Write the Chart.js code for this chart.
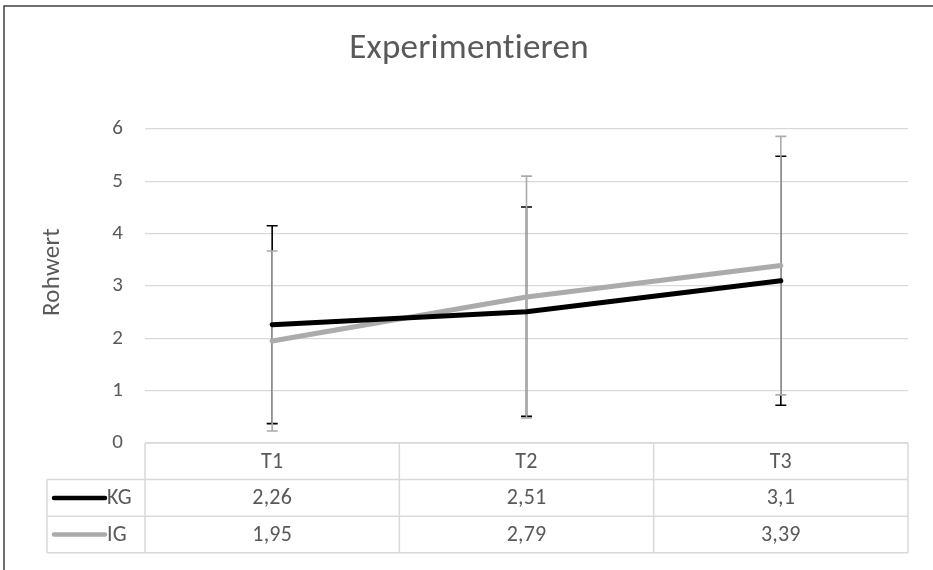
<!DOCTYPE html>
<html>
<head>
<meta charset="utf-8">
<script src="https://cdn.jsdelivr.net/npm/chart.js@4/dist/chart.umd.min.js"></script>
<style>
  html, body { margin: 0; padding: 0; background: #ffffff; }
  #wrap { position: relative; width: 933px; height: 570px; overflow: hidden; }
  canvas { position: absolute; left: 0; top: 0; }
</style>
</head>
<body>
<div id="wrap"><canvas id="c" width="933" height="570"></canvas></div>
<script>
// ---- data ----
const chartTitle = 'Experimentieren';
const yAxisTitle = 'Rohwert';
const categories = ['T1', 'T2', 'T3'];
const seriesNames = ['KG', 'IG'];
const kgValues = [2.26, 2.51, 3.1];
const igValues = [1.95, 2.79, 3.39];
const kgErrors = [1.89, 2.0, 2.38];
const igErrors = [1.72, 2.31, 2.47];
const yMin = 0, yMax = 6, yStep = 1;

const FONT = "Carlito, Lato, 'Open Sans', sans-serif";
const TEXT = '#595959';
const GRID = '#d9d9d9';

const noLigPlugin = {
  id: 'noLig',
  beforeDraw(chart) {
    try { chart.ctx.letterSpacing = '0.2px'; } catch (e) {}
  }
};

const errorBarsPlugin = {
  id: 'errorBars',
  beforeDatasetsDraw(chart) {
    const ctx = chart.ctx;
    const y = chart.scales.y;
    chart.data.datasets.forEach((ds, di) => {
      const meta = chart.getDatasetMeta(di);
      ctx.save();
      ctx.strokeStyle = ds.errorColor;
      ctx.lineWidth = 1.6;
      meta.data.forEach((pt, i) => {
        const v = ds.data[i], e = ds.errors[i];
        const yt = y.getPixelForValue(v + e);
        const yb = y.getPixelForValue(v - e);
        const x = pt.x, w = 5.5;
        ctx.beginPath();
        ctx.moveTo(x, yt); ctx.lineTo(x, yb);
        ctx.moveTo(x - w, yt); ctx.lineTo(x + w, yt);
        ctx.moveTo(x - w, yb); ctx.lineTo(x + w, yb);
        ctx.stroke();
      });
      ctx.restore();
    });
  }
};

const frameTablePlugin = {
  id: 'frameTable',
  afterDraw(chart) {
    const ctx = chart.ctx;
    const a = chart.chartArea;
    const xs = chart.scales.x;
    ctx.save();
    // outer frame (top + left visible)
    ctx.strokeStyle = '#404040';
    ctx.lineWidth = 1.5;
    ctx.beginPath();
    ctx.moveTo(4, 600); ctx.lineTo(4, 6); ctx.lineTo(960, 6);
    ctx.stroke();

    // chart title
    ctx.fillStyle = TEXT;
    ctx.font = '35px ' + FONT;
    ctx.textAlign = 'center';
    ctx.textBaseline = 'alphabetic';
    ctx.fillText(chartTitle, 469, 58);

    // y-axis title
    ctx.font = '25px ' + FONT;
    ctx.textBaseline = 'middle';
    ctx.save();
    ctx.translate(53, 272);
    ctx.rotate(-Math.PI / 2);
    ctx.fillText(yAxisTitle, 0, 0);
    ctx.restore();

    // data table
    const rowH = 36.6;
    const top = a.bottom;
    const labelLeft = 47;
    const n = categories.length;
    const half = (xs.getPixelForValue(1) - xs.getPixelForValue(0)) / 2;
    const bounds = [];
    for (let i = 0; i < n; i++) bounds.push(xs.getPixelForValue(i) - half);
    bounds.push(xs.getPixelForValue(n - 1) + half);
    const rows = 1 + chart.data.datasets.length;
    const bottom = top + rows * rowH;

    ctx.strokeStyle = GRID;
    ctx.lineWidth = 1.5;
    ctx.beginPath();
    ctx.moveTo(bounds[0], top); ctx.lineTo(bounds[n], top);
    for (let r = 1; r <= rows; r++) {
      ctx.moveTo(labelLeft, top + r * rowH); ctx.lineTo(bounds[n], top + r * rowH);
    }
    bounds.forEach(b => { ctx.moveTo(b, top); ctx.lineTo(b, bottom); });
    ctx.moveTo(labelLeft, top + rowH); ctx.lineTo(labelLeft, bottom);
    ctx.stroke();

    ctx.fillStyle = TEXT;
    ctx.font = '22px ' + FONT;
    ctx.textAlign = 'center';
    ctx.textBaseline = 'middle';
    categories.forEach((c, i) => ctx.fillText(c, xs.getPixelForValue(i), top + rowH / 2 + 1));
    chart.data.datasets.forEach((ds, di) => {
      const cy = top + (di + 1) * rowH + rowH / 2 + 1;
      ds.data.forEach((v, i) => {
        ctx.fillText(String(v).replace('.', ','), xs.getPixelForValue(i), cy);
      });
      ctx.save();
      ctx.strokeStyle = ds.borderColor;
      ctx.lineWidth = 4.5;
      ctx.lineCap = 'round';
      ctx.beginPath();
      ctx.moveTo(54, cy - 1); ctx.lineTo(105, cy - 1);
      ctx.stroke();
      ctx.restore();
      ctx.textAlign = 'left';
      ctx.fillText(ds.label, 107, cy);
      ctx.textAlign = 'center';
    });
    ctx.restore();
  }
};

new Chart(document.getElementById('c'), {
  type: 'line',
  data: {
    labels: categories,
    datasets: [
      { label: seriesNames[0], data: kgValues, errors: kgErrors,
        borderColor: '#000000', errorColor: '#000000', borderWidth: 5,
        pointRadius: 0, tension: 0, borderCapStyle: 'round', borderJoinStyle: 'round' },
      { label: seriesNames[1], data: igValues, errors: igErrors,
        borderColor: '#ababab', errorColor: '#ababab', borderWidth: 5,
        pointRadius: 0, tension: 0, borderCapStyle: 'round', borderJoinStyle: 'round' }
    ]
  },
  options: {
    responsive: false,
    animation: false,
    devicePixelRatio: 1,
    layout: { padding: { left: 0, right: 25, top: 129, bottom: 127 } },
    plugins: {
      legend: { display: false },
      tooltip: { enabled: false },
      title: { display: false }
    },
    scales: {
      x: { display: false, offset: true },
      y: {
        min: yMin, max: yMax,
        afterFit(s) { s.width = 145; },
        border: { display: false },
        grid: { color: GRID, lineWidth: 1.3, drawTicks: false },
        ticks: { stepSize: yStep, color: TEXT, padding: 22,
                 font: { family: FONT, size: 21 } }
      }
    }
  },
  plugins: [noLigPlugin, errorBarsPlugin, frameTablePlugin]
});
</script>
</body>
</html>
